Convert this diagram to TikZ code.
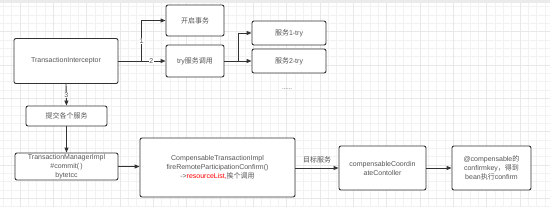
\documentclass[tikz,border=0pt]{standalone}
\usepackage{fontspec}
\setmainfont{Liberation Sans}
\newfontfamily\cjk{Noto Sans CJK SC}
\usetikzlibrary{arrows.meta}
\definecolor{txt}{HTML}{555555}
\definecolor{ln}{HTML}{333333}
\definecolor{gridminor}{HTML}{F2F2F2}
\definecolor{gridmajor}{HTML}{E8E8E8}
\definecolor{topbar}{HTML}{EBEBEB}
\tikzset{
  box/.style={draw=ln, line width=0.9pt, rounded corners=2pt, fill=white, align=center,
    text=txt, font=\fontsize{7}{9}\selectfont, inner sep=1pt},
  conn/.style={draw=ln, line width=0.9pt, -{Triangle[length=5pt,width=4pt]}},
  lbl/.style={fill=white, text=txt, font=\fontsize{7}{9}\selectfont, inner sep=0.5pt}
}
\begin{document}
\begin{tikzpicture}[x=1pt,y=-1pt]
\useasboundingbox (0,0) rectangle (550,207);
\fill[white] (0,0) rectangle (550,207);
% grid
\foreach \i in {0,...,66} {
  \pgfmathsetmacro\xx{3.333+\i*8.3333}
  \draw[gridminor, line width=0.6pt] (\xx,0) -- (\xx,207);
}
\foreach \i in {0,...,25} {
  \pgfmathsetmacro\yy{6.7+\i*8.3333}
  \draw[gridminor, line width=0.6pt] (0,\yy) -- (550,\yy);
}
\foreach \i in {0,...,16} {
  \pgfmathsetmacro\xx{20+\i*33.333}
  \draw[gridmajor, line width=0.6pt] (\xx,0) -- (\xx,207);
}
\foreach \i in {0,...,6} {
  \pgfmathsetmacro\yy{31.7+\i*33.333}
  \draw[gridmajor, line width=0.6pt] (0,\yy) -- (550,\yy);
}
\fill[topbar] (0,0) rectangle (550,3);

% nodes
\node[box, minimum width=104pt, minimum height=45pt] (ti) at (66,61) {TransactionInterceptor};
\node[box, minimum width=58pt, minimum height=31pt] (open) at (195,20.5) {\cjk 开启事务};
\node[box, minimum width=58pt, minimum height=32pt] (try) at (195,61) {try{\cjk 服务调用}};
\node[box, minimum width=74pt, minimum height=24pt] (s1) at (289,33) {{\cjk 服务}1-try};
\node[box, minimum width=74pt, minimum height=24pt] (s2) at (289,61) {{\cjk 服务}2-try};
\node[text=txt, font=\fontsize{6}{7}\selectfont] (dots) at (287,89) {......};
\node[box, minimum width=81pt, minimum height=20pt] (commit) at (66.5,116) {\cjk 提交各个服务};
\node[box, minimum width=103pt, minimum height=27pt] (tmi) at (66.5,166.5) {TransactionManagerImpl\\\#commit(\,)\\bytetcc};
\node[box, minimum width=155pt, minimum height=59pt] (cti) at (217.5,167.5) {CompensableTransactionImpl\\fireRemoteParticipationConfirm()\\->\textcolor{red}{resourceList,}{\cjk 挨个调用}};
\node[box, minimum width=87pt, minimum height=44pt] (ccc) at (382.5,168) {compensableCoordin\\ateContoller};
\node[box, minimum width=79pt, minimum height=44pt] (bean) at (491.5,168) {@compensable{\cjk 的}\\confirmkey{\cjk ，得到}\\bean{\cjk 执行}confirm};

% connectors
\draw[conn] (ti.east) -- ++(23,0) |- (open.west) node[pos=0.25, lbl] {1};
\draw[conn] (ti.east) -- (try.west) node[pos=0.7, lbl] {2};
\draw[conn] (try.east) -- ++(14,0) |- (s1.west);
\draw[conn] (try.east) -- (s2.west);
\draw[conn] (ti.south) -- (commit.north) node[midway, lbl] {3};
\draw[conn] (commit.south) -- (tmi.north);
\draw[conn] (tmi.east) -- (cti.west |- tmi.east);
\draw[conn] (cti.east |- ccc.west) -- (ccc.west) node[midway, above=1pt, text=txt, font=\fontsize{7}{9}\selectfont\cjk] {目标服务};
\draw[conn] (ccc.east) -- (bean.west);
\end{tikzpicture}
\end{document}
